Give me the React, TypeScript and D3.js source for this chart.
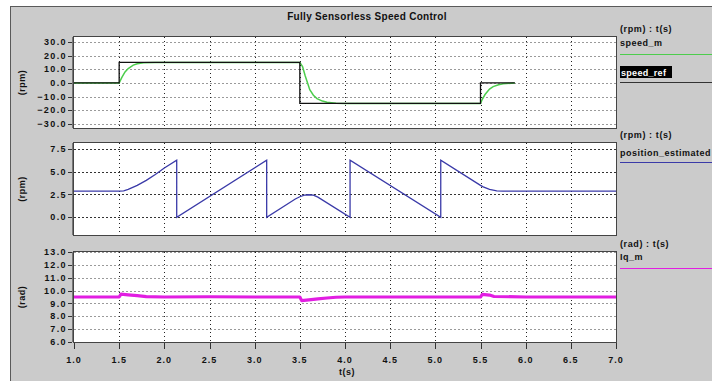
import React from "react";
import * as d3 from "d3";

// ---------- data ----------
const speedRefT = [1.0, 1.5, 1.5, 3.5, 3.5, 5.5, 5.5, 5.88];
const speedRefV = [0, 0, 15, 15, -15, -15, 0, 0];

const speedMT = [1.0, 1.5, 1.53, 1.565, 1.6, 1.656, 1.7, 1.77, 1.9, 2.0, 3.5, 3.53, 3.56, 3.61, 3.65, 3.69, 3.75, 3.8, 3.9, 4.0, 5.5, 5.52, 5.55, 5.6, 5.64, 5.7, 5.75, 5.88];
const speedMV = [0, 0, 4, 8, 10.5, 13, 14, 14.7, 15, 15, 15, 12, 5, -5, -9, -11.5, -13.3, -14.2, -14.8, -15, -15, -12, -8.5, -4.5, -2.7, -1.3, -0.6, 0];

const posT = [1.0, 1.5, 1.55, 1.6, 1.7, 1.8, 1.9, 2.0, 2.137, 2.137, 3.133, 3.133, 3.45, 3.5, 3.55, 3.6, 3.65, 3.7, 4.056, 4.056, 5.06, 5.06, 5.5, 5.53, 5.6, 5.68, 5.75, 7.0];
const posV = [2.86, 2.86, 2.9, 3.05, 3.5, 4.05, 4.7, 5.4, 6.26, 0, 6.26, 0, 2.0, 2.25, 2.42, 2.47, 2.42, 2.2, 0, 6.26, 0, 6.26, 3.5, 3.33, 3.05, 2.9, 2.86, 2.86];

const iqT = [1.0, 1.5, 1.52, 1.6, 1.7, 1.8, 2.0, 2.5, 3.0, 3.5, 3.52, 3.6, 3.7, 3.8, 3.9, 4.0, 4.5, 5.0, 5.5, 5.52, 5.6, 5.65, 6.0, 7.0];
const iqV = [9.5, 9.5, 9.72, 9.66, 9.6, 9.53, 9.5, 9.52, 9.5, 9.5, 9.22, 9.28, 9.35, 9.42, 9.48, 9.5, 9.5, 9.5, 9.5, 9.7, 9.65, 9.54, 9.5, 9.5];

const xTicks = [1.0, 1.5, 2.0, 2.5, 3.0, 3.5, 4.0, 4.5, 5.0, 5.5, 6.0, 6.5, 7.0];
const y1Ticks = [30, 20, 10, 0, -10, -20, -30];
const y2Ticks = [7.5, 5.0, 2.5, 0.0];
const y3Ticks = [13, 12, 11, 10, 9, 8, 7, 6];

const title = "Fully Sensorless Speed Control";

// ---------- layout ----------
const W = 712, H = 381;
const L = 74, R = 616;
const FONT = "'Liberation Sans', Arial, sans-serif";

const x = d3.scaleLinear().domain([1, 7]).range([L, R]);

type Panel = {
  top: number; bottom: number; domain: [number, number]; ticks: number[]; fmt: (v: number) => string;
  unit: string; legendHead: string; hGridDark: boolean;
};

const panels: Panel[] = [
  { top: 37, bottom: 128, domain: [-33, 33.6], ticks: y1Ticks, fmt: d3.format(".1f"), unit: "(rpm)", legendHead: "(rpm) : t(s)", hGridDark: false },
  { top: 143, bottom: 235, domain: [-1.95, 8.15], ticks: y2Ticks, fmt: d3.format(".1f"), unit: "(rpm)", legendHead: "(rpm) : t(s)", hGridDark: true },
  { top: 252, bottom: 342, domain: [6, 13], ticks: y3Ticks, fmt: d3.format(".1f"), unit: "(rad)", legendHead: "(rad) : t(s)", hGridDark: false },
];

const yScales = panels.map((p) => d3.scaleLinear().domain(p.domain).range([p.bottom, p.top]));

function pathOf(ts: number[], vs: number[], yS: d3.ScaleLinear<number, number>) {
  const pts = ts.map((t, i) => [t, vs[i]] as [number, number]);
  return d3.line<[number, number]>().x((d) => x(d[0])).y((d) => yS(d[1]))(pts) || "";
}

export default function App() {
  return (
    <svg width={W} height={H} style={{ position: "absolute", left: 0, top: 0, background: "#fff" }} fontFamily={FONT}>
      <rect x={10.5} y={6.5} width={W + 20} height={H + 20} fill="#cbcbcb" stroke="#5a5a5a" strokeWidth={1} />
      <text x={367} y={20} textAnchor="middle" fontSize={10} fontWeight="bold" fill="#111" letterSpacing={0.3}>{title}</text>

      {panels.map((p, pi) => {
        const yS = yScales[pi];
        const clipId = `clip${pi}`;
        return (
          <g key={pi}>
            <defs>
              <clipPath id={clipId}>
                <rect x={L} y={p.top} width={R - L} height={p.bottom - p.top} />
              </clipPath>
            </defs>
            <rect x={L} y={p.top} width={R - L} height={p.bottom - p.top} fill="#fff" />
            {/* horizontal grid */}
            {p.ticks.map((t) => (
              <line key={"h" + t} x1={L} x2={R} y1={Math.round(yS(t)) + 0.5} y2={Math.round(yS(t)) + 0.5}
                stroke={p.hGridDark ? "#333" : "#9a9a9a"} strokeDasharray="2,2" strokeWidth={1} />
            ))}
            {/* vertical grid */}
            {xTicks.slice(1, -1).map((t) => (
              <line key={"v" + t} x1={Math.round(x(t)) + 0.5} x2={Math.round(x(t)) + 0.5} y1={p.top} y2={p.bottom}
                stroke="#222" strokeDasharray="1,3" strokeWidth={1} />
            ))}
            {/* series */}
            <g clipPath={`url(#${clipId})`}>
              {pi === 0 && (
                <>
                  <path d={pathOf(speedMT, speedMV, yS)} fill="none" stroke="#4ccd4c" strokeWidth={1.5} />
                  <path d={pathOf(speedRefT, speedRefV, yS)} fill="none" stroke="#111" strokeWidth={1.3} />
                </>
              )}
              {pi === 1 && <path d={pathOf(posT, posV, yS)} fill="none" stroke="#3a3aa8" strokeWidth={1.3} />}
              {pi === 2 && <path d={pathOf(iqT, iqV, yS)} fill="none" stroke="#e21ee2" strokeWidth={3.2} strokeLinejoin="round" />}
            </g>
            {/* frame */}
            <rect x={L - 0.5} y={p.top - 0.5} width={R - L + 1} height={p.bottom - p.top + 1} fill="none" stroke="#444" strokeWidth={1} />
            {/* y axis */}
            <line x1={72.5} x2={72.5} y1={p.top} y2={p.bottom} stroke="#777" />
            {p.ticks.map((t) => (
              <g key={"t" + t}>
                <line x1={68} x2={72} y1={Math.round(yS(t)) + 0.5} y2={Math.round(yS(t)) + 0.5} stroke="#333" />
                <text x={67} y={yS(t)} dy="0.35em" textAnchor="end" fontSize={9} fontWeight="bold" fill="#111" letterSpacing={1.4}>{p.fmt(t)}</text>
              </g>
            ))}
            <text transform={`translate(25,${(p.top + p.bottom) / 2}) rotate(-90)`} textAnchor="middle" fontSize={9} fontWeight="bold" fill="#111" letterSpacing={0.5}>{p.unit}</text>
            {/* legend head */}
            <text x={620} y={p.top - 5} fontSize={9} fontWeight="bold" fill="#111" letterSpacing={0.6}>{p.legendHead}</text>
          </g>
        );
      })}

      {/* legends */}
      <text x={620} y={46} fontSize={9} fontWeight="bold" fill="#111" letterSpacing={0.5}>speed_m</text>
      <line x1={620} x2={712} y1={54.5} y2={54.5} stroke="#4ccd4c" strokeWidth={1.2} />
      <rect x={620} y={66} width={52} height={12} fill="#000" />
      <text x={621} y={75.5} fontSize={9} fontWeight="bold" fill="#fff" letterSpacing={0.3}>speed_ref</text>
      <line x1={620} x2={712} y1={82.5} y2={82.5} stroke="#333" strokeWidth={1.2} />

      <text x={620} y={156} fontSize={9} fontWeight="bold" fill="#111" letterSpacing={0.5}>position_estimated</text>
      <line x1={620} x2={712} y1={162.5} y2={162.5} stroke="#3a3aa8" strokeWidth={1.2} />

      <text x={620} y={260} fontSize={9} fontWeight="bold" fill="#111" letterSpacing={0.5}>Iq_m</text>
      <line x1={620} x2={712} y1={268.5} y2={268.5} stroke="#e21ee2" strokeWidth={1.2} />

      {/* x axis */}
      {xTicks.map((t) => (
        <g key={"x" + t}>
          <line x1={Math.round(x(t)) + 0.5} x2={Math.round(x(t)) + 0.5} y1={343} y2={349} stroke="#333" />
          <text x={x(t)} y={363} textAnchor="middle" fontSize={9} fontWeight="bold" fill="#111" letterSpacing={1}>{d3.format(".1f")(t)}</text>
        </g>
      ))}
      <text x={347} y={375} textAnchor="middle" fontSize={9} fontWeight="bold" fill="#111" letterSpacing={0.5}>t(s)</text>
    </svg>
  );
}
